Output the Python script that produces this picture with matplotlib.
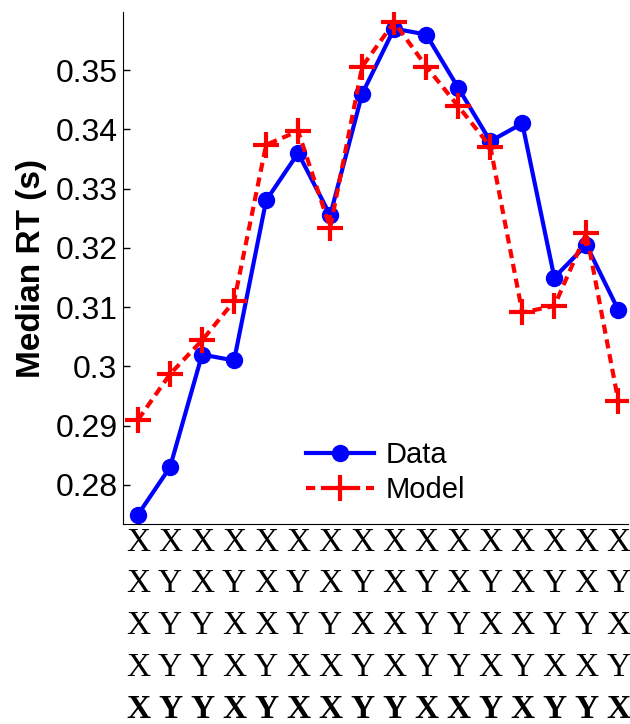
import matplotlib
matplotlib.use('Agg')
import matplotlib.pyplot as plt

# median RT per sequence (16 conditions)
data_rt = [0.275, 0.283, 0.302, 0.301, 0.328, 0.336, 0.3255, 0.346,
           0.357, 0.356, 0.347, 0.338, 0.341, 0.315, 0.3205, 0.3095]
model_rt = [0.291, 0.2987, 0.3044, 0.311, 0.3374, 0.3397, 0.3234, 0.3506,
            0.3581, 0.3506, 0.3439, 0.3371, 0.3091, 0.3102, 0.3225, 0.2941]

# stimulus sequences under each point, last row is the current trial
seq_rows = ['XXXXXXXXXXXXXXXX',
            'XYXYXYXYXYXYXYXY',
            'XYYXXYYXXYYXXYYX',
            'XYYXYXXYXYYXYXXY',
            'XYYXYXXYYXXYXYYX']

yticks = [0.28, 0.29, 0.30, 0.31, 0.32, 0.33, 0.34, 0.35]
ytick_labels = ['0.28', '0.29', '0.3', '0.31', '0.32', '0.33', '0.34', '0.35']

plt.rcParams['font.family'] = ['Liberation Sans', 'DejaVu Sans']

fig = plt.figure(figsize=(6.3, 7.24), dpi=100)
ax = fig.add_axes([0.1952, 0.2762, 0.8016, 0.7072])

x = list(range(1, len(data_rt) + 1))
ax.plot(x, data_rt, color='b', lw=3, marker='o', ms=11.5, label='Data')
ax.plot(x, model_rt, color='r', lw=3, ls=(0, (2.2, 1.4)), marker='+', ms=19,
        mew=3, label='Model')

ax.set_xlim(0.53, 16.3)
ax.set_ylim(0.2734, 0.3598)
ax.set_yticks(yticks)
ax.set_yticklabels(ytick_labels, fontsize=23)
ax.set_xticks([])
ax.tick_params(axis='y', direction='in', length=5, width=1, pad=4)
ax.spines['top'].set_visible(False)
ax.spines['right'].set_visible(False)
ax.set_ylabel('Median RT (s)', fontsize=24, fontweight='bold', labelpad=6)

trans = ax.get_xaxis_transform()
for r, row in enumerate(seq_rows):
    yy = -0.036 - r * 0.0814
    for i, ch in enumerate(row):
        ax.text(i + 1, yy, ch, transform=trans, ha='center', va='center',
                fontsize=24, family='Liberation Serif',
                fontweight='bold' if r == len(seq_rows) - 1 else 'normal')

ax.legend(loc='center', bbox_to_anchor=(0.52, 0.10), frameon=False,
          fontsize=21, handlelength=2.3, handletextpad=0.4, labelspacing=0.25)

fig.savefig('out.png', dpi=100)
